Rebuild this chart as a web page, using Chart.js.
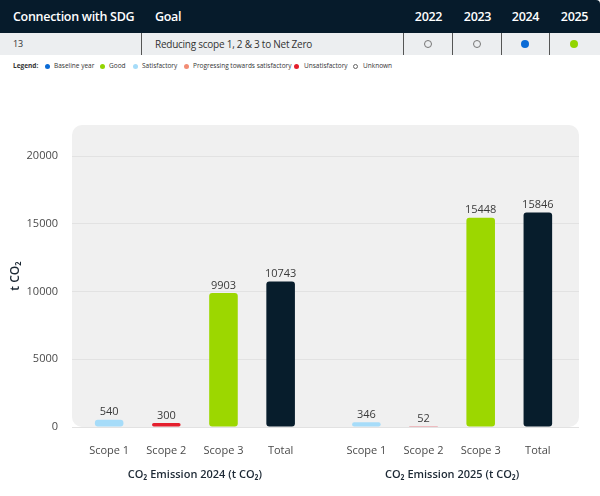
<!DOCTYPE html>
<html>
<head>
<meta charset="utf-8">
<script src="https://cdn.jsdelivr.net/npm/chart.js@4.4.1/dist/chart.umd.min.js"></script>
<style>
  body { margin: 0; width: 600px; height: 496px; background: #fff; font-family: "Open Sans", sans-serif; position: relative; overflow: hidden; }
  .abs { position: absolute; }
  .head { left: 0; top: 0; width: 600px; height: 33px; background: #061b2b; border-top-right-radius: 4px; }
  .head span { position: absolute; top: 8px; color: #fff; font-size: 12.5px; font-weight: 600; letter-spacing: -0.3px; }
  .head .yr { width: 49px; text-align: center; }
  .row { left: 0; top: 33px; width: 600px; height: 22px; background: #eceef0; }
  .row span { position: absolute; top: 4px; color: #333; font-size: 10px; letter-spacing: -0.25px; }
  .vline { position: absolute; top: 0; width: 1px; height: 22px; background: #555; }
  .dot { position: absolute; top: 7px; width: 8px; height: 8px; border-radius: 50%; box-sizing: border-box; }
  .lg { position: absolute; top: 61px; font-size: 6.5px; color: #333; line-height: 10px; white-space: nowrap; }
  .ld { position: absolute; top: 64px; width: 5px; height: 5px; border-radius: 50%; box-sizing: border-box; }
  #wrap { left: 0; top: 80px; width: 600px; height: 416px; }
</style>
</head>
<body>
<div class="abs head">
  <span style="left:13px">Connection with SDG</span>
  <span style="left:155px">Goal</span>
  <span class="yr" style="left:404px">2022</span>
  <span class="yr" style="left:453px">2023</span>
  <span class="yr" style="left:501px">2024</span>
  <span class="yr" style="left:550px">2025</span>
</div>
<div class="abs row">
  <span style="left:13px;font-size:9px">13</span>
  <span style="left:155px">Reducing scope 1, 2 &amp; 3 to Net Zero</span>
  <div class="vline" style="left:141px"></div>
  <div class="vline" style="left:403px"></div>
  <div class="vline" style="left:452px"></div>
  <div class="vline" style="left:501px"></div>
  <div class="vline" style="left:549px"></div>
  <div class="dot" style="left:424px;border:1px solid #777"></div>
  <div class="dot" style="left:473px;border:1px solid #777"></div>
  <div class="dot" style="left:521px;background:#0b6bd6"></div>
  <div class="dot" style="left:570px;background:#93d500"></div>
</div>
<span class="lg" style="left:13px;font-weight:700">Legend:</span>
<div class="ld" style="left:45px;background:#0b6bd6"></div><span class="lg" style="left:54px">Baseline year</span>
<div class="ld" style="left:100px;background:#93d500"></div><span class="lg" style="left:109px">Good</span>
<div class="ld" style="left:133px;background:#a6dcf9"></div><span class="lg" style="left:142px">Satisfactory</span>
<div class="ld" style="left:184px;background:#f28c74"></div><span class="lg" style="left:193px">Progressing towards satisfactory</span>
<div class="ld" style="left:294px;background:#e41f2d"></div><span class="lg" style="left:304px">Unsatisfactory</span>
<div class="ld" style="left:353px;border:1px solid #666"></div><span class="lg" style="left:363px">Unknown</span>
<div class="abs" id="wrap"><canvas id="chart" width="600" height="416"></canvas></div>

<script>
// Dati
const years = ['2024', '2025'];
const categories = ['Scope 1', 'Scope 2', 'Scope 3', 'Total'];
const emissions2024 = [540, 300, 9903, 10743];
const emissions2025 = [346, 52, 15448, 15846];
const yTicks = [0, 5000, 10000, 15000, 20000];

const barColors = ['#a6dcf9', '#e41f2d', '#9cd700', '#071d2c'];
const groupGap = 0.5;

// posizione sull'asse x: un'unità per barra, mezza unità di spazio tra i gruppi
const allValues = [emissions2024, emissions2025];
const positions = [];
const points = [];
const colors = [];
const labelAt = {};
allValues.forEach(function(values, g) {
    values.forEach(function(v, i) {
        const x = g * (categories.length + groupGap) + i;
        positions.push(x);
        points.push({ x: x, y: v });
        colors.push(barColors[i]);
        labelAt[x] = categories[i];
    });
});

// sfondo grigio arrotondato dietro l'area del grafico
const plotBackground = {
    id: 'plotBackground',
    beforeDraw(chart) {
        const a = chart.chartArea;
        const ctx = chart.ctx;
        ctx.save();
        ctx.fillStyle = '#f0f0f0';
        ctx.beginPath();
        ctx.roundRect(a.left, a.top, a.right - a.left, a.bottom - a.top, 10);
        ctx.fill();
        ctx.restore();
    }
};

// etichette dei valori sopra le barre e titoli dei gruppi
const valueLabels = {
    id: 'valueLabels',
    afterDatasetsDraw(chart) {
        const ctx = chart.ctx;
        const meta = chart.getDatasetMeta(0);
        ctx.save();
        ctx.font = '11px "Open Sans"';
        ctx.fillStyle = '#3a3a3a';
        ctx.textAlign = 'center';
        ctx.textBaseline = 'bottom';
        meta.data.forEach(function(bar, i) {
            ctx.fillText(String(points[i].y), bar.x, bar.y - 2);
        });

        const xs = chart.scales.x;
        ctx.font = '600 11px "Open Sans"';
        ctx.fillStyle = '#1d2935';
        ctx.textBaseline = 'middle';
        years.forEach(function(year, g) {
            const first = positions[g * categories.length];
            const last = positions[g * categories.length + categories.length - 1];
            const cx = (xs.getPixelForValue(first) + xs.getPixelForValue(last)) / 2;
            ctx.fillText('CO₂ Emission ' + year + ' (t CO₂)', cx, chart.chartArea.bottom + 48);
        });
        ctx.restore();
    }
};

new Chart(document.getElementById('chart').getContext('2d'), {
    type: 'bar',
    data: {
        datasets: [{
            data: points,
            backgroundColor: colors,
            borderRadius: 3,
            borderSkipped: false,
            barPercentage: 0.5,
            categoryPercentage: 1
        }]
    },
    options: {
        responsive: false,
        animation: false,
        layout: { padding: { top: 45, right: 21, left: 0, bottom: 0 } },
        plugins: { legend: { display: false }, tooltip: { enabled: false } },
        scales: {
            x: {
                type: 'linear',
                offset: false,
                min: -0.65,
                max: 8.22,
                grid: { display: false },
                border: { display: false },
                afterBuildTicks: function(scale) {
                    scale.ticks = positions.map(function(p) { return { value: p }; });
                },
                afterFit: function(scale) { scale.height = 69; },
                ticks: {
                    autoSkip: false,
                    maxRotation: 0,
                    padding: 9,
                    color: '#4a4a4a',
                    font: { family: 'Open Sans', size: 11 },
                    callback: function(value) { return labelAt[value] || ''; }
                }
            },
            y: {
                min: 0,
                max: 22300,
                grid: { color: '#e2e2e2', drawTicks: false },
                border: { display: false },
                afterBuildTicks: function(scale) {
                    scale.ticks = yTicks.map(function(v) { return { value: v }; });
                },
                afterFit: function(scale) { scale.width = 72; },
                ticks: {
                    autoSkip: false,
                    padding: 14,
                    color: '#4a4a4a',
                    font: { family: 'Open Sans', size: 11 },
                    callback: function(value) { return String(value); }
                },
                title: {
                    display: true,
                    text: 't CO₂',
                    color: '#1b2733',
                    padding: { top: 8, bottom: 0 },
                    font: { family: 'Open Sans', size: 12, weight: '600' }
                }
            }
        }
    },
    plugins: [plotBackground, valueLabels]
});
</script>
</body>
</html>
